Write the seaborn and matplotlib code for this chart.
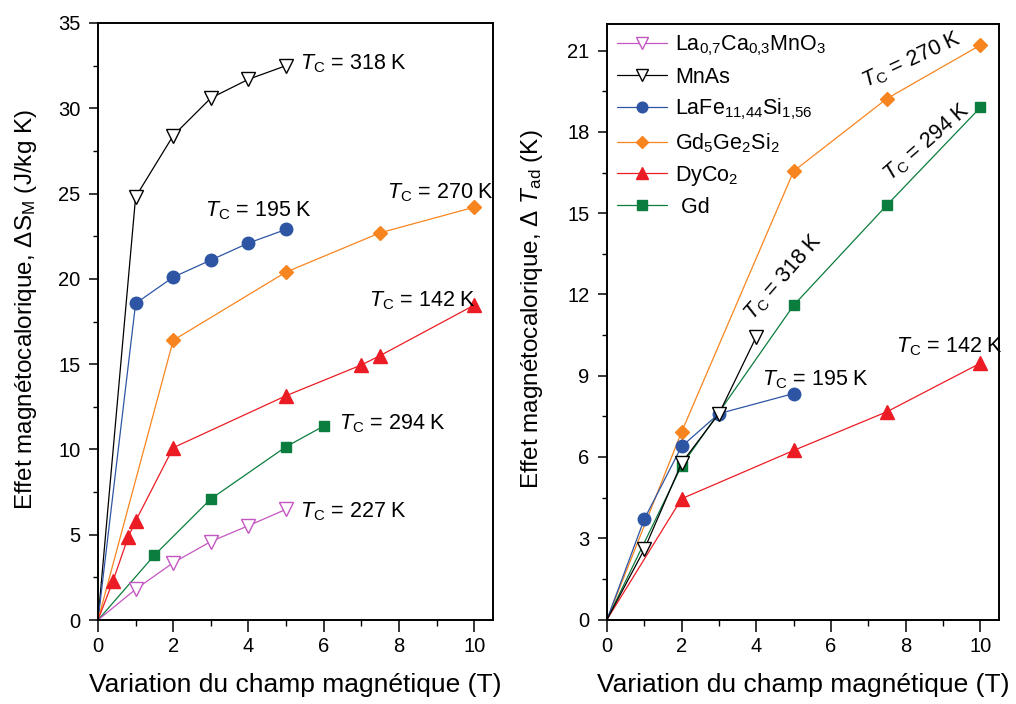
import numpy as np
import pandas as pd
import matplotlib
matplotlib.use("Agg")
import matplotlib.pyplot as plt
import seaborn as sns
from matplotlib.ticker import MultipleLocator
from matplotlib.lines import Line2D

sns.set_style("ticks")
plt.rcParams['font.family'] = ['Liberation Sans', 'DejaVu Sans']
plt.rcParams['mathtext.fontset'] = 'custom'
plt.rcParams['mathtext.rm'] = 'Liberation Sans'
plt.rcParams['mathtext.it'] = 'Liberation Sans:italic'
plt.rcParams['mathtext.bf'] = 'Liberation Sans:bold'
for k in ['text.color', 'axes.labelcolor', 'xtick.color', 'ytick.color', 'axes.edgecolor']:
    plt.rcParams[k] = 'black'

# ---------------- data: left panel (Delta S_M) ----------------
x_la_s = [0, 1, 2, 3, 4, 5]
y_la_s = [0, 1.8, 3.36, 4.6, 5.53, 6.49]
x_mnas_s = [0, 1, 2, 3, 4, 5]
y_mnas_s = [0, 24.8, 28.4, 30.6, 31.7, 32.5]
x_lafe_s = [0, 1, 2, 3, 4, 5]
y_lafe_s = [0, 18.56, 20.1, 21.1, 22.1, 22.9]
x_gdge_s = [0, 2, 5, 7.5, 10]
y_gdge_s = [0, 16.4, 20.4, 22.7, 24.2]
x_dyco_s = [0, 0.4, 0.8, 1, 2, 5, 7, 7.5, 10]
y_dyco_s = [0, 2.3, 4.85, 5.8, 10.1, 13.15, 14.95, 15.5, 18.46]
x_gd_s = [0, 1.5, 3, 5, 6]
y_gd_s = [0, 3.8, 7.1, 10.16, 11.37]

# ---------------- data: right panel (Delta T_ad) ----------------
x_mnas_t = [0, 1, 2, 3, 4]
y_mnas_t = [0, 2.59, 5.78, 7.6, 10.44]
x_lafe_t = [0, 1, 2, 3, 5]
y_lafe_t = [0, 3.71, 6.39, 7.6, 8.34]
x_gdge_t = [0, 2, 5, 7.5, 10]
y_gdge_t = [0, 6.93, 16.55, 19.23, 21.2]
x_dyco_t = [0, 2, 5, 7.5, 10]
y_dyco_t = [0, 4.46, 6.24, 7.67, 9.46]
x_gd_t = [0, 2, 5, 7.5, 10]
y_gd_t = [0, 5.68, 11.6, 15.3, 18.9]

names = ['La$_{0{,}7}$Ca$_{0{,}3}$MnO$_3$', 'MnAs', 'LaFe$_{11{,}44}$Si$_{1{,}56}$',
         'Gd$_5$Ge$_2$Si$_2$', 'DyCo$_2$', ' Gd']

# annotations (Curie temperature, x, y)
ann_left = [(318, 5.38, 32.28), (195, 2.85, 23.68), (270, 7.69, 24.72),
            (142, 7.20, 18.37), (294, 6.40, 11.18), (227, 5.38, 6.02)]
ann_right_rot = [(270, 8.17, 20.65, 25), (294, 8.56, 17.63, 41), (318, 4.73, 12.63, 49)]
ann_right = [(195, 4.16, 8.64), (142, 7.74, 9.87)]

styles = {
    'la':   dict(color='#c356c1', marker='v', ms=10, mfc='white'),
    'mnas': dict(color='black', marker='v', ms=10, mfc='white'),
    'lafe': dict(color='#2e55a4', marker='o', ms=9, mfc=None),
    'gdge': dict(color='#f7851f', marker='D', ms=7, mfc=None),
    'dyco': dict(color='#ec1c24', marker='^', ms=10, mfc=None),
    'gd':   dict(color='#0b7d3e', marker='s', ms=7.7, mfc=None),
}

fig = plt.figure(figsize=(10.16, 7.04), dpi=100)
axL = fig.add_axes([98/1016, 1-620/704, (493-98)/1016, (620-23)/704])
axR = fig.add_axes([607/1016, 1-619.5/704, (999-607)/1016, (619.5-23.5)/704])


def draw(ax, key, x, y):
    st = styles[key]
    mfc = st['mfc'] if st['mfc'] is not None else st['color']
    df = pd.DataFrame({'x': x, 'y': y})
    sns.lineplot(data=df, x='x', y='y', ax=ax, sort=False, errorbar=None,
                 color=st['color'], lw=0.9, marker=st['marker'], markersize=st['ms'],
                 markerfacecolor=mfc, markeredgecolor=st['color'], markeredgewidth=1.0,
                 markevery=list(range(1, len(x))), legend=False)


draw(axL, 'mnas', x_mnas_s, y_mnas_s)
draw(axL, 'lafe', x_lafe_s, y_lafe_s)
draw(axL, 'gdge', x_gdge_s, y_gdge_s)
draw(axL, 'dyco', x_dyco_s, y_dyco_s)
draw(axL, 'gd', x_gd_s, y_gd_s)
draw(axL, 'la', x_la_s, y_la_s)

draw(axR, 'gdge', x_gdge_t, y_gdge_t)
draw(axR, 'gd', x_gd_t, y_gd_t)
draw(axR, 'dyco', x_dyco_t, y_dyco_t)
draw(axR, 'lafe', x_lafe_t, y_lafe_t)
draw(axR, 'mnas', x_mnas_t, y_mnas_t)

# legend handles
handles = []
for key in ['la', 'mnas', 'lafe', 'gdge', 'dyco', 'gd']:
    st = styles[key]
    mfc = st['mfc'] if st['mfc'] is not None else st['color']
    handles.append(Line2D([0], [0], color=st['color'], lw=0.9, marker=st['marker'],
                          ms=st['ms'] * 0.85, mfc=mfc, mec=st['color'], mew=1.0))
leg = axR.legend(handles, names, loc='upper left', bbox_to_anchor=(0.0, 1.0),
                 frameon=False, fontsize=15.5, handlelength=2.35, handletextpad=0.35,
                 labelspacing=0.42, borderaxespad=0.25, borderpad=0.2)

fs_ann = 15.5
for tc, x, y in ann_left:
    axL.text(x, y, r'$T_{\rm C}$ = %d K' % tc, fontsize=fs_ann, ha='left', va='baseline')
for tc, x, y, rot in ann_right_rot:
    axR.text(x, y, r'$T_{\rm C}$ = %d K' % tc, fontsize=fs_ann, ha='center', va='center',
             rotation=rot, rotation_mode='anchor')
for tc, x, y in ann_right:
    axR.text(x, y, r'$T_{\rm C}$ = %d K' % tc, fontsize=fs_ann, ha='left', va='baseline')

for ax in (axL, axR):
    ax.set_xlim(0, 10.5)
    ax.xaxis.set_major_locator(MultipleLocator(2))
    ax.xaxis.set_minor_locator(MultipleLocator(1))
    ax.tick_params(axis='x', which='major', direction='out', length=8.5, width=1.1,
                   labelsize=14.5, pad=4, top=False, colors='black')
    ax.tick_params(axis='x', which='minor', direction='out', length=4.5, width=1.0,
                   top=False, colors='black')
    ax.tick_params(axis='y', which='major', direction='out', length=6.5, width=1.1,
                   labelsize=14.5, pad=6, right=False, colors='black')
    ax.tick_params(axis='y', which='minor', direction='out', length=3.5, width=1.0,
                   right=False, colors='black')
    for s in ax.spines.values():
        s.set_linewidth(1.4)
        s.set_color('black')
        s.set_visible(True)
    ax.set_xlabel('Variation du champ magnétique (T)', fontsize=19, labelpad=12)

axL.set_ylim(0, 35)
axL.yaxis.set_major_locator(MultipleLocator(5))
axL.yaxis.set_minor_locator(MultipleLocator(2.5))
axL.set_ylabel(r'Effet magnétocalorique, ΔS$_{\rm M}$ (J/kg K)', fontsize=17.5)
axL.yaxis.set_label_coords(-0.15, 0.52)

axR.set_ylim(0, 22)
axR.yaxis.set_major_locator(MultipleLocator(3))
axR.yaxis.set_minor_locator(MultipleLocator(1.5))
axR.set_ylabel(r'Effet magnétocalorique, Δ $T_{\rm ad}$ (K)', fontsize=17.5)
axR.yaxis.set_label_coords(-0.158, 0.52)

fig.savefig('out.png', dpi=100)
